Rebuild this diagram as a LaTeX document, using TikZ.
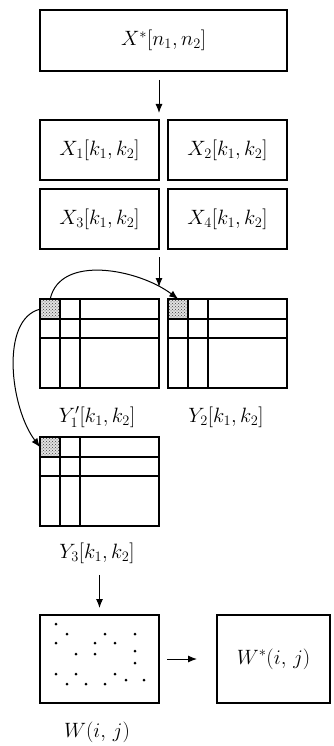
\documentclass[tikz,border=0pt]{standalone}
\usepackage{amsmath}
\usepackage{tikz}
\usetikzlibrary{arrows.meta,positioning,patterns,backgrounds}

\begin{document}
\begin{tikzpicture}[
    x=1pt, y=-1pt, >={Latex[length=9pt,width=7pt]},
    box/.style={draw=black, line width=2.8pt, outer sep=0pt, inner sep=0pt, font=\fontsize{20.74}{24}\selectfont},
    wide/.style={box, minimum width=247pt, minimum height=61pt},
    quarter/.style={box, minimum width=119pt, minimum height=60pt},
    spec/.style={box, minimum width=119pt, minimum height=89pt},
    cell/.style={preaction={fill=black!12}, pattern=crosshatch dots, pattern color=black!75, minimum size=20pt, inner sep=0pt, anchor=north west},
    gridline/.style={line width=1.2pt},
    flow/.style={->, line width=1pt},
    lab/.style={font=\fontsize{20.74}{24}\selectfont}
  ]
  \useasboundingbox (0,0) rectangle (334,746);
  % input and its four parts
  \node[wide] (top) at (163.5,40.5) {$X^{*}[n_1,n_2]$};
  \node[quarter] (x1) at (99.5,150) {$X_1[k_1,k_2]$};
  \node[quarter] (x2) at (227.5,150) {$X_2[k_1,k_2]$};
  \node[quarter] (x3) at (99.5,219) {$X_3[k_1,k_2]$};
  \node[quarter] (x4) at (227.5,219) {$X_4[k_1,k_2]$};
  \draw[flow, shorten <=9pt, shorten >=7pt] (top.south -| x1.east) -- (x1.north east);

  % transformed blocks
  \node[spec] (y1) at (99.5,343.5) {};
  \node[spec] (y2) at (227.5,343.5) {};
  \node[spec] (y3) at (99.5,481.5) {};
  \node[lab] (y1l) at (97,417) {$Y_1'[k_1,k_2]$};
  \node[lab] (y2l) at (226,417) {$Y_2[k_1,k_2]$};
  \node[lab] (y3l) at (97,553) {$Y_3[k_1,k_2]$};
  \begin{scope}[on background layer]
    \foreach \y in {y1,y2,y3}
      \node[cell] (\y-cell) at (\y.north west) {};
  \end{scope}
  \foreach \y in {y1,y2,y3} {
    \begin{scope}[shift={(\y.north west)}]
      \draw[gridline] (20,0) -- (20,89) (40,0) -- (40,89)
                      (0,20) -- (119,20) (0,39) -- (119,39);
    \end{scope}
  }
  \draw[flow, shorten <=8pt, shorten >=12pt] (x3.south east) -- (y1.north east);
  \draw[flow] (y1-cell.north) .. controls +(10,-45) and +(-40,-30) .. (y2-cell.north);
  \draw[flow] (y1-cell.west) .. controls +(-40,10) and +(-30,-40) .. (y3-cell.west);

  % embedded result
  \node[box, minimum width=119pt, minimum height=88pt] (w) at (99.5,659) {};
  \node[box, minimum width=113pt, minimum height=88pt] (ws) at (273.5,659) {$W^{*}(i,\,j)$};
  \node[lab] (wl) at (97,732) {$W(i,\,j)$};
  \begin{scope}[shift={(w.north west)}]
    \foreach \p in {(16,9),(27,19),(65,19),(95,19),(16,28),(55,28),(75,28),(95,36),
                    (36,39),(55,39),(95,48),(16,59),(36,59),(75,59),(27,69),(46,69),
                    (65,69),(86,65),(104,65)}
      \fill \p circle (1.5pt);
  \end{scope}
  \draw[flow, shorten <=8pt, shorten >=7pt] (y3l.south -| w) -- (w.north);
  \draw[flow, shorten <=8pt, shorten >=20pt] (w.east) -- (ws.west);
\end{tikzpicture}
\end{document}
